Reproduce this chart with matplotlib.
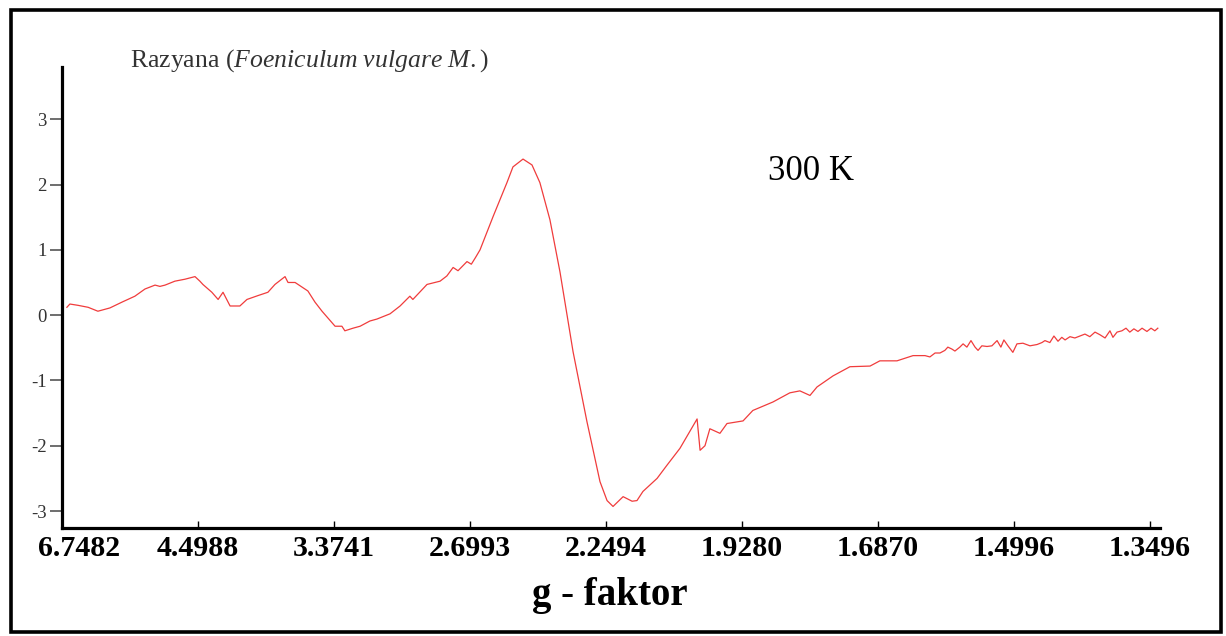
import matplotlib
matplotlib.use("Agg")
import matplotlib.pyplot as plt
from matplotlib.patches import Rectangle
from matplotlib.transforms import ScaledTranslation

plt.rcParams['mathtext.fontset'] = 'custom'
plt.rcParams['mathtext.rm'] = 'Liberation Serif'
plt.rcParams['mathtext.it'] = 'Liberation Serif:italic'
plt.rcParams['font.family'] = ['Liberation Serif', 'DejaVu Serif']

# magnetic field (mT) and EPR signal
field = [101.8, 102.9, 105.9, 109.6, 113.2, 117.6, 122.1, 126.8, 130.5, 134.2,
         136.0, 137.9, 141.5, 145.2, 148.9, 150.7, 151.8, 155.1, 157.4, 159.2,
         161.8, 165.4, 168.0, 172.1, 175.7, 178.3, 182.0, 183.1, 185.7, 190.4,
         193.0, 195.6, 200.4, 202.9, 204.0, 207.0, 209.6, 213.2, 215.8, 220.6,
         224.3, 227.9, 229.0, 234.2, 239.0, 241.5, 243.8, 245.6, 248.9, 250.5,
         252.0, 253.7, 258.5, 263.6,
         265.8, 269.5, 272.8, 275.7, 279.4, 283.1, 287.9, 293.0, 297.8, 300.4,
         302.6, 306.3, 309.6, 311.4, 313.6, 318.8, 322.4, 327.2, 333.5, 334.6,
         336.4, 338.2, 341.9, 344.5, 350.4, 354.0, 361.4, 367.6, 371.3, 375.0,
         377.6, 383.5, 389.7, 397.1,
         400.7, 407.0, 412.9, 417.3, 419.1, 421.0, 422.8, 424.6, 425.7, 427.2,
         428.3, 430.1, 431.3, 432.7, 434.2, 435.7, 436.8, 438.2, 440.1, 441.9,
         443.8, 445.2, 446.3, 447.8, 449.6, 451.1, 453.3, 455.9, 458.5, 460.3,
         461.4, 463.2, 464.7, 466.2, 467.6, 468.8, 470.6, 472.4, 474.3, 476.1,
         477.9, 479.8, 481.6, 483.5, 485.3, 486.4, 487.9, 489.7, 491.2, 492.6,
         494.1, 495.6, 497.1, 498.9, 500.4, 501.8, 502.9]
signal = [0.12, 0.17, 0.15, 0.12, 0.06, 0.11, 0.20, 0.29, 0.40, 0.46,
          0.44, 0.46, 0.52, 0.55, 0.59, 0.52, 0.47, 0.35, 0.24, 0.35,
          0.14, 0.14, 0.24, 0.30, 0.35, 0.47, 0.59, 0.50, 0.50, 0.37,
          0.20, 0.06, -0.17, -0.17, -0.24, -0.20, -0.17, -0.09, -0.06, 0.02,
          0.14, 0.29, 0.24, 0.47, 0.52, 0.60, 0.73, 0.68, 0.82, 0.78,
          0.88, 1.00, 1.51, 2.03,
          2.27, 2.39, 2.30, 2.03, 1.46, 0.66, -0.56, -1.63, -2.55, -2.84,
          -2.93, -2.78, -2.85, -2.84, -2.70, -2.50, -2.30, -2.04, -1.59, -2.07,
          -2.00, -1.74, -1.81, -1.66, -1.62, -1.46, -1.33, -1.19, -1.16, -1.23,
          -1.10, -0.93, -0.79, -0.78,
          -0.70, -0.70, -0.62, -0.62, -0.64, -0.58, -0.58, -0.54, -0.49, -0.52,
          -0.55, -0.49, -0.44, -0.49, -0.39, -0.49, -0.54, -0.47, -0.48, -0.47,
          -0.39, -0.49, -0.38, -0.47, -0.57, -0.44, -0.43, -0.47, -0.45, -0.42,
          -0.39, -0.42, -0.32, -0.40, -0.34, -0.38, -0.33, -0.35, -0.32, -0.29,
          -0.33, -0.26, -0.30, -0.35, -0.24, -0.34, -0.26, -0.24, -0.20, -0.26,
          -0.21, -0.25, -0.20, -0.25, -0.20, -0.24, -0.20]

tick_fields = [100, 150, 200, 250, 300, 350, 400, 450, 500]
g_labels = ['6.7482', '4.4988', '3.3741', '2.6993', '2.2494',
            '1.9280', '1.6870', '1.4996', '1.3496']
y_ticks = [-3, -2, -1, 0, 1, 2, 3]

fig = plt.figure(figsize=(12.26, 6.36), dpi=100)
fig.patch.set_facecolor('white')
fig.patches.append(Rectangle((11 / 1226, 4 / 636), 1210 / 1226, 622 / 636,
                             transform=fig.transFigure, fill=False,
                             edgecolor='black', linewidth=2.6, zorder=10))

ax = fig.add_axes([62 / 1226, 1 - 528 / 636, 1098 / 1226, 461 / 636])
ax.plot(field, signal, color='#f03c3c', linewidth=0.9)
ax.set_xlim(100, 503.7)
ax.set_ylim(-3.26, 3.80)

for s in ['top', 'right']:
    ax.spines[s].set_visible(False)
for s in ['left', 'bottom']:
    ax.spines[s].set_linewidth(2.3)

ax.set_xticks(tick_fields)
ax.set_xticklabels(g_labels, fontsize=21.5, fontweight='bold')
ax.tick_params(axis='x', direction='in', length=5, width=1.0, pad=5)
ax.set_yticks(y_ticks)
ax.set_yticklabels([str(v) for v in y_ticks], fontsize=13.5, color='#333333')
ax.tick_params(axis='y', direction='out', length=9, width=1.2, pad=2,
               colors='#555555', labelcolor='#333333')

fig.canvas.draw()
lab0 = ax.get_xticklabels()[0]
lab0.set_transform(lab0.get_transform() + ScaledTranslation(0.17, 0, fig.dpi_scale_trans))

fig.text(130 / 1226, 1 - 61 / 636,
         r'Razyana ($\mathit{Foeniculum\ vulgare\ M.}$)',
         fontsize=18.5, color='#333333', ha='left', va='center')
fig.text(768 / 1226, 1 - 172 / 636, '300 K', fontsize=25, color='black',
         ha='left', va='center')
fig.text(610 / 1226, 1 - 595 / 636, 'g - faktor', fontsize=28,
         fontweight='bold', ha='center', va='center')

fig.savefig('out.png', dpi=100, facecolor='white')
